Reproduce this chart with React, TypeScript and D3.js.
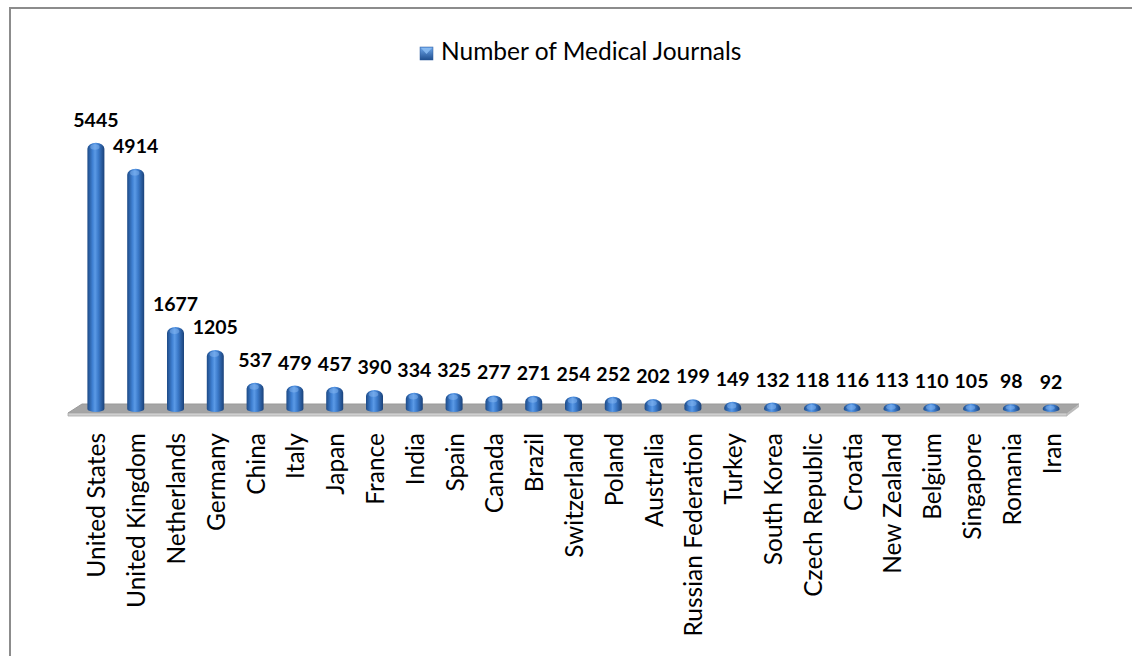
import { useEffect, useRef } from 'react';
import * as d3 from 'd3';

const countries = [
  'United States', 'United Kingdom', 'Netherlands', 'Germany', 'China', 'Italy', 'Japan',
  'France', 'India', 'Spain', 'Canada', 'Brazil', 'Switzerland', 'Poland', 'Australia',
  'Russian Federation', 'Turkey', 'South Korea', 'Czech Republic', 'Croatia', 'New Zealand',
  'Belgium', 'Singapore', 'Romania', 'Iran',
];
const journals = [
  5445, 4914, 1677, 1205, 537, 479, 457, 390, 334, 325, 277, 271, 254, 252, 202, 199, 149,
  132, 118, 116, 113, 110, 105, 98, 92,
];
const seriesName = 'Number of Medical Journals';

export default function App() {
  const svgRef = useRef<SVGSVGElement>(null);

  useEffect(() => {
    if (!svgRef.current) return;
    const svg = d3.select(svgRef.current);
    svg.selectAll('*').remove();

    const W = 1132;
    const H = 656;
    const baseY = 409;
    const barW = 17;
    const font = 'Lato, Carlito, Calibri, sans-serif';

    const defs = svg.append('defs');
    const grad = defs.append('linearGradient').attr('id', 'cyl').attr('x1', 0).attr('x2', 1).attr('y1', 0).attr('y2', 0);
    [['0%', '#1d4a86'], ['30%', '#3f80d2'], ['45%', '#5b9ae6'], ['65%', '#3b7aca'], ['100%', '#1b4279']].forEach(([o, c]) =>
      grad.append('stop').attr('offset', o).attr('stop-color', c));
    const lg = defs.append('linearGradient').attr('id', 'leg').attr('x1', 0).attr('x2', 0).attr('y1', 0).attr('y2', 1);
    [['0%', '#6fa8ec'], ['100%', '#1f4f8f']].forEach(([o, c]) => lg.append('stop').attr('offset', o).attr('stop-color', c));

    svg.append('rect').attr('width', W).attr('height', H).attr('fill', '#fff');
    svg.append('rect')
      .attr('x', 10).attr('y', 8).attr('width', W + 20).attr('height', H + 20)
      .attr('fill', 'none').attr('stroke', '#8c8c8c').attr('stroke-width', 2);

    const x = d3.scalePoint<string>().domain(countries).range([76, 1071]).padding(0.5);
    const y = d3.scaleLinear().domain([0, 6000]).range([baseY, baseY - 293.4]);

    // floor
    const [r0, r1] = x.range();
    const floor = svg.append('g');
    floor.append('path')
      .attr('d', `M${r0 + 6},404 L${r1 + 8},404 L${r1 - 4},413 L${r0 - 8},413 Z`)
      .attr('fill', '#a5a5a5').attr('stroke', '#9a9a9a').attr('stroke-width', 1);
    floor.append('path')
      .attr('d', `M${r0 - 8},413 L${r1 - 4},413 L${r1 - 4},416 L${r0 - 8},416 Z`)
      .attr('fill', '#cfcfcf').attr('stroke', '#a8a8a8').attr('stroke-width', 0.8);
    floor.append('path')
      .attr('d', `M${r1 - 4},413 L${r1 + 8},404 L${r1 + 8},407 L${r1 - 4},416 Z`)
      .attr('fill', '#bdbdbd');

    const rx = barW / 2;
    const barPath = (v: number, cx: number) => {
      const top = y(v);
      const h = baseY - top;
      const rTop = Math.min(6, h);
      const x0 = cx - rx;
      const x1 = cx + rx;
      return `M${x0},${baseY} A${rx},3 0 0 0 ${x1},${baseY} L${x1},${top + rTop} A${rx},${rTop} 0 0 0 ${x0},${top + rTop} Z`;
    };

    const bars = svg.append('g');
    countries.forEach((c, i) => {
      const cx = x(c)!;
      bars.append('path').attr('d', barPath(journals[i], cx)).attr('fill', 'url(#cyl)');
      const top = y(journals[i]);
      const rTop = Math.min(6, baseY - top);
      bars.append('ellipse')
        .attr('cx', cx - 1).attr('cy', top + rTop * 0.7)
        .attr('rx', rx * 0.55).attr('ry', Math.max(1, rTop * 0.45))
        .attr('fill', '#8dbdf5').attr('opacity', 0.45);
    });

    svg.append('g').selectAll('text')
      .data(countries)
      .join('text')
      .attr('x', d => x(d)!)
      .attr('y', (d, i) => y(journals[i]) - 16)
      .attr('text-anchor', 'middle')
      .attr('font-family', font)
      .attr('font-weight', 'bold')
      .attr('font-size', 19.5)
      .attr('fill', '#000')
      .text((d, i) => journals[i]);

    svg.append('g').selectAll('text')
      .data(countries)
      .join('text')
      .attr('transform', d => `translate(${x(d)! + 1},433) rotate(-90)`)
      .attr('dy', '0.35em')
      .attr('text-anchor', 'end')
      .attr('font-family', font)
      .attr('font-size', 24.5)
      .attr('fill', '#000')
      .text(d => d);

    // legend
    const leg = svg.append('g').attr('transform', 'translate(420,47)');
    leg.append('rect').attr('width', 13).attr('height', 13).attr('fill', 'url(#leg)').attr('stroke', '#2a5a9a').attr('stroke-width', 0.5);
    leg.append('path').attr('d', 'M1,1 L12,1 L6.5,7 Z').attr('fill', '#8fc0f5').attr('opacity', 0.8);
    leg.append('text')
      .attr('x', 21).attr('y', 13)
      .attr('font-family', font)
      .attr('font-size', 24.5)
      .attr('fill', '#000')
      .text(seriesName);
  }, []);

  return (
    <svg
      ref={svgRef}
      width={1132}
      height={656}
      style={{ position: 'absolute', left: 0, top: 0 }}
    />
  );
}
